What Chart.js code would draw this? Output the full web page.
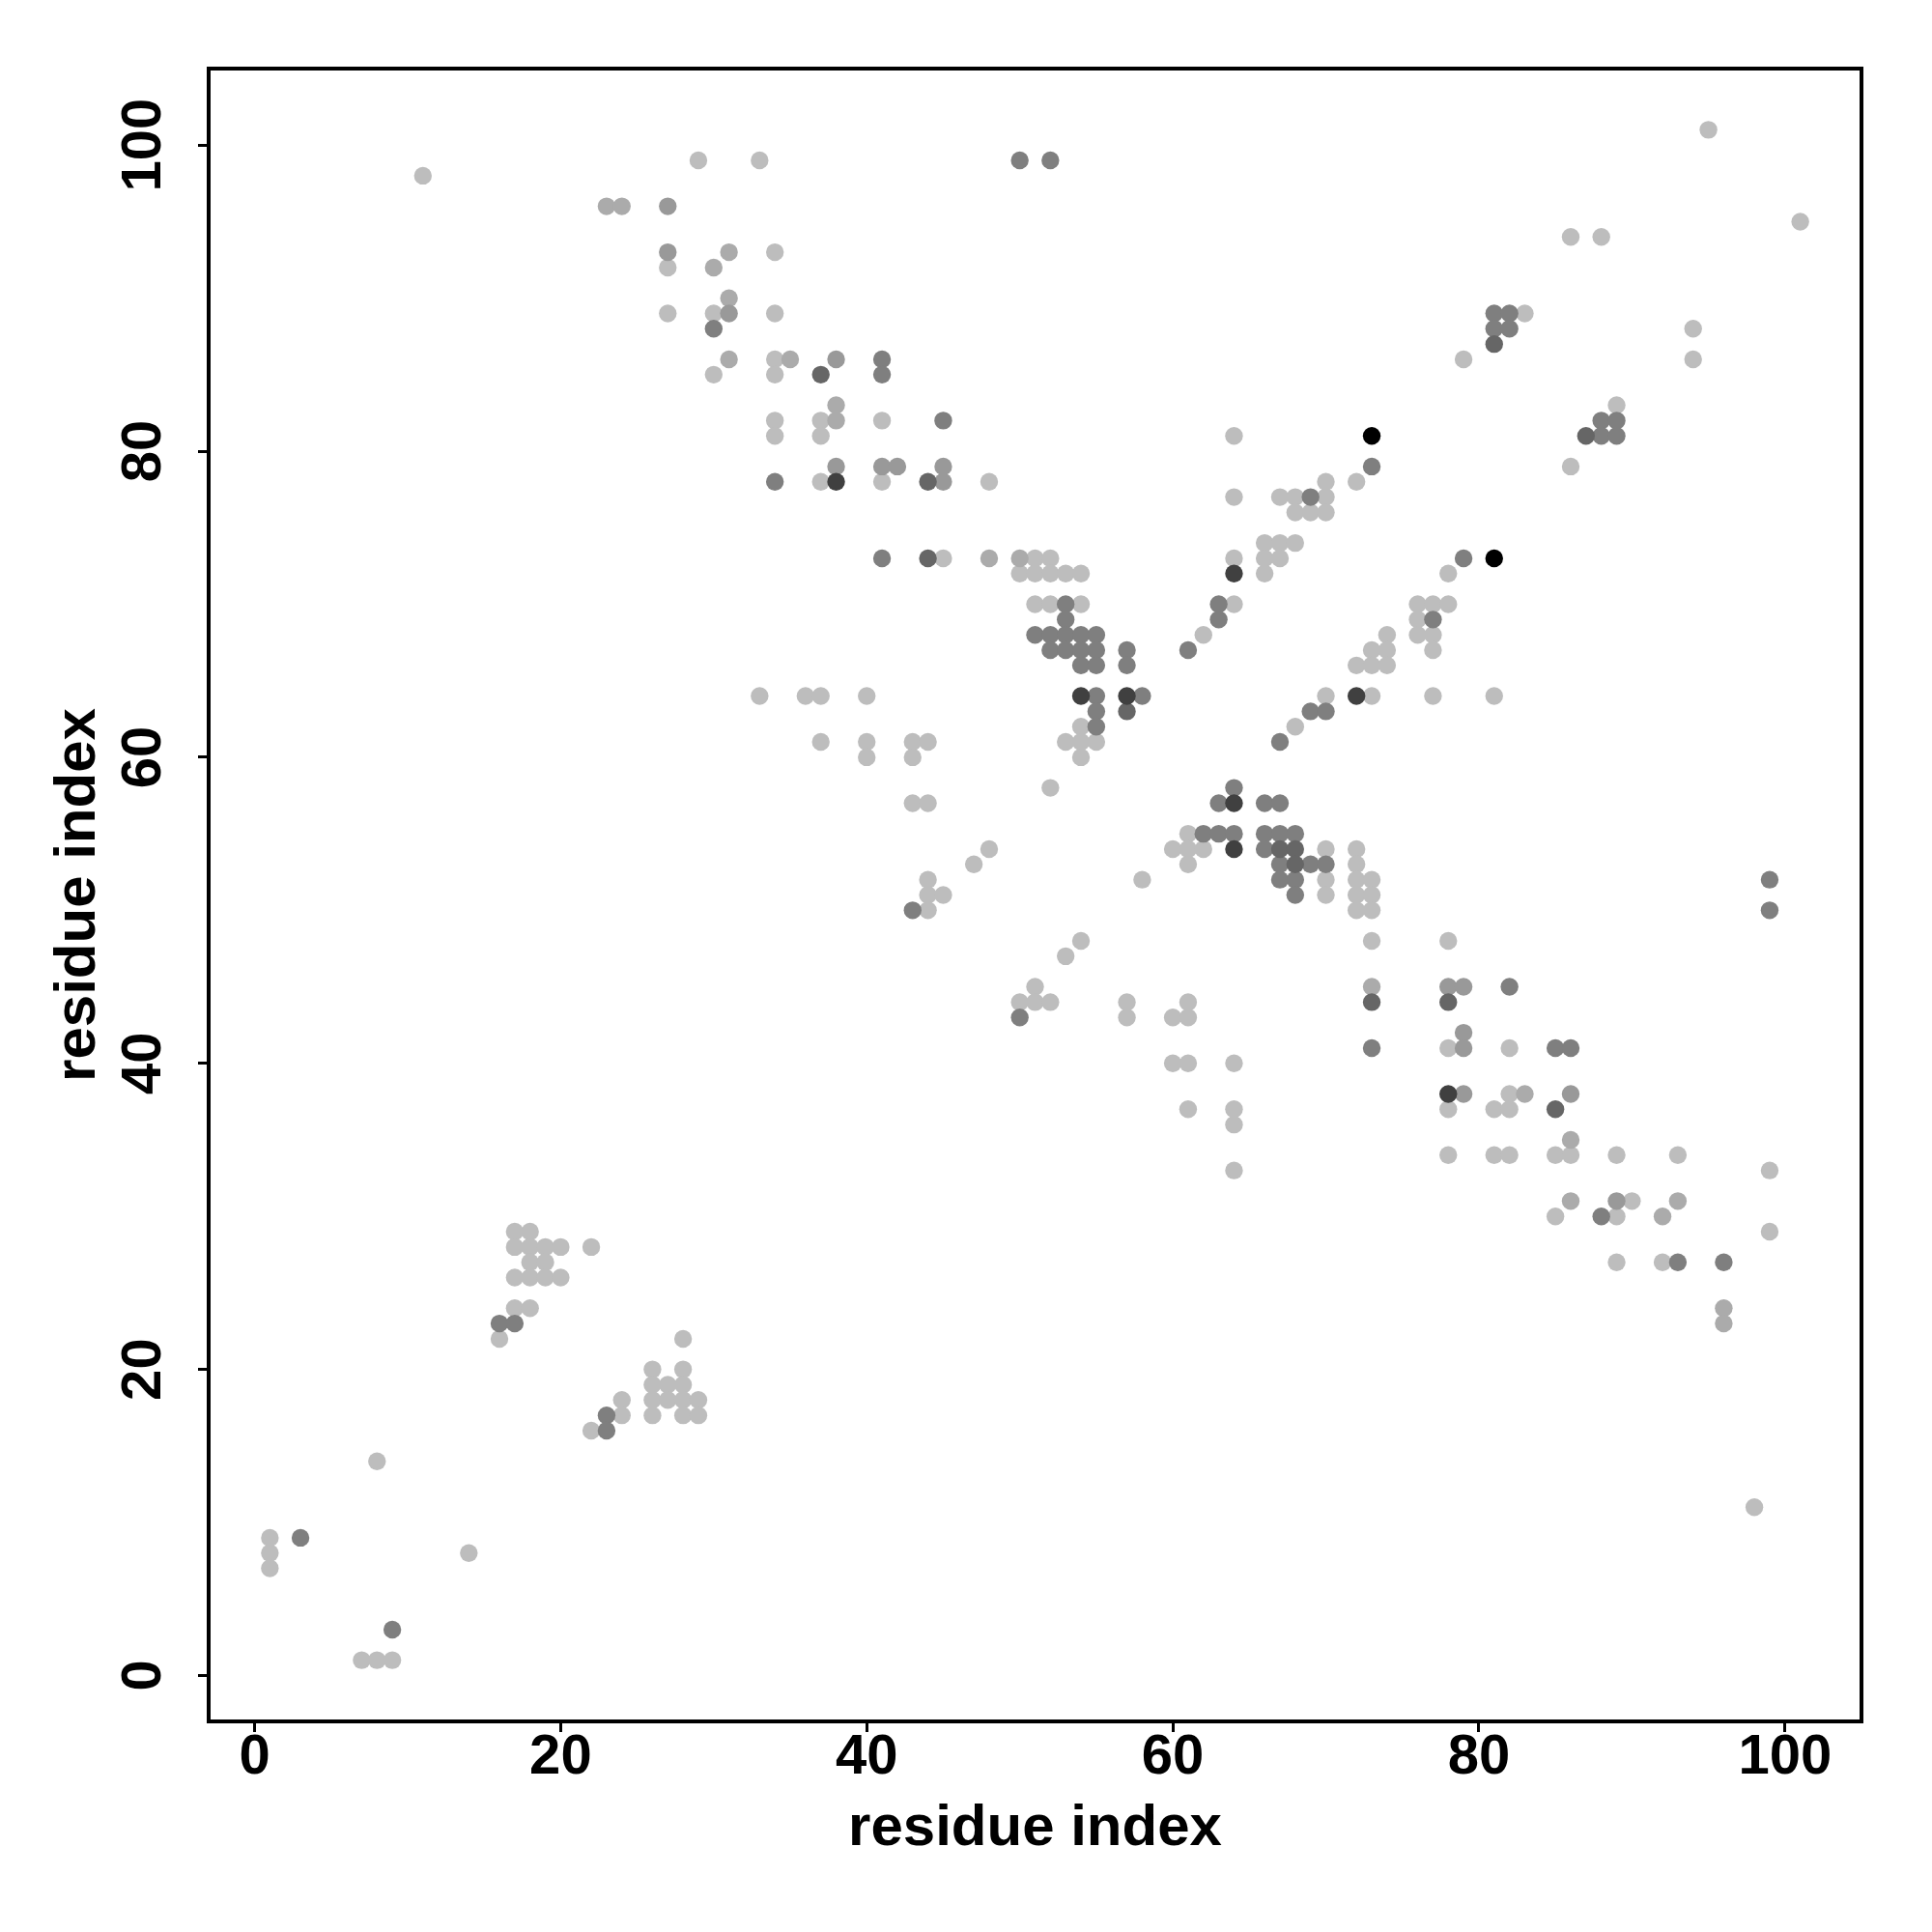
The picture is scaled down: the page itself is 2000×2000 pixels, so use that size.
<!DOCTYPE html>
<html>
<head>
<meta charset="utf-8">
<script src="https://cdn.jsdelivr.net/npm/chart.js@4/dist/chart.umd.min.js"></script>
<style>
  html, body { margin: 0; padding: 0; background: #ffffff; }
  #wrap { width: 2000px; height: 2000px; }
</style>
</head>
<body>
<div id="wrap"><canvas id="c" width="2000" height="2000"></canvas></div>
<script>
// ---- DATA: residue contact pairs [i, j], grouped by contact strength (1 = weakest, 7 = strongest)
const level1 = [
  [1,9],[1,8],[1,7],[7,1],[8,1],[9,1],[8,14],[14,8],[11,98],
  [17,29],[18,29],[17,28],[18,28],[19,28],[20,28],[22,28],[18,27],[19,27],
  [17,26],[18,26],[19,26],[20,26],[17,24],[18,24],[16,22],
  [28,22],[26,20],[28,20],[26,19],[27,19],[28,19],[24,18],[26,18],[27,18],[28,18],[29,18],
  [24,17],[26,17],[28,17],[29,17],[22,16],
  [29,99],[33,99],[34,93],[27,92],[27,89],[30,89],[34,89],[34,86],[30,85],[34,85],
  [34,82],[37,82],[41,82],[34,81],[37,81],[37,78],[41,78],[48,78],
  [45,73],[51,73],[52,73],[50,72],[51,72],[52,72],[53,72],[54,72],
  [51,70],[52,70],[54,70],[54,62],[53,61],[54,61],[55,61],[54,60],
  [33,64],[36,64],[37,64],[40,64],[37,61],[40,61],[43,61],[44,61],[40,60],[43,60],
  [52,58],[43,57],[44,57],[48,54],[47,53],[44,52],[58,52],[44,51],[45,51],[44,50],
  [54,48],[53,47],[51,45],[50,44],[51,44],[52,44],[57,44],[57,43],
  [61,55],[60,54],[61,54],[62,54],[70,54],[72,54],[61,53],[72,53],
  [70,52],[72,52],[73,52],[70,51],[72,51],[73,51],[72,50],[73,50],[73,48],[78,48],
  [78,41],[82,41],[82,38],[78,37],[81,37],[82,37],
  [78,34],[81,34],[82,34],[85,34],[86,34],[89,34],[93,34],[99,33],
  [90,31],[85,30],[89,30],[99,29],[89,27],[92,27],[98,11],
  [60,43],[61,44],[61,43],[60,40],[61,40],[64,40],[61,37],[64,37],[64,36],[64,33],
  [64,81],[70,78],[72,78],[64,77],[67,77],[68,77],[70,77],[68,76],[69,76],[70,76],
  [66,74],[67,74],[68,74],[64,73],[66,73],[67,73],[66,72],[64,70],[62,68],
  [78,72],[76,70],[77,70],[78,70],[76,69],[74,68],[76,68],[77,68],[73,67],[74,67],[77,67],
  [72,66],[73,66],[74,66],[70,64],[73,64],[77,64],[68,62],[81,64],
  [95,101],[101,95],[86,94],[88,94],[83,89],[94,88],[79,86],[94,86],[89,83],[86,79]
];
const level2 = [
  [23,96],[24,96],[31,93],[30,92],[31,90],[31,86],[35,86],[38,83],[38,82],
  [48,73],[50,73],[73,45],[83,38],[86,35],[86,31],[93,31],[92,30],[96,24],[96,23]
];
const level3 = [
  [27,96],[27,93],[31,89],[38,86],[38,79],[41,79],[42,79],[45,79],[45,78],
  [78,45],[79,45],[79,42],[79,41],[79,38],[86,38],[89,31]
];
const level4 = [
  [3,9],[9,3],[16,23],[17,23],[23,17],[23,16],
  [30,88],[41,86],[41,85],[45,82],[34,78],[41,73],[50,99],[52,99],
  [53,70],[53,69],[51,68],[52,68],[53,68],[54,68],[55,68],
  [52,67],[53,67],[54,67],[55,67],[57,67],[61,67],[54,66],[55,66],[57,66],
  [55,64],[58,64],[55,63],[55,62],[43,50],[50,43],
  [64,58],[63,57],[66,57],[67,57],[62,55],[63,55],[64,55],[66,55],[67,55],[68,55],
  [66,54],[67,53],[69,53],[70,53],[67,52],[68,52],[68,51],
  [82,45],[73,41],[85,41],[86,41],[88,30],[93,27],[96,27],[99,52],[99,50],
  [73,79],[69,77],[63,70],[63,69],[79,73],[77,69],[69,63],[70,63],[67,61],
  [81,89],[82,89],[81,88],[82,88],[88,82],[89,82],[88,81],[89,81]
];
const level5 = [
  [37,85],[44,78],[44,73],[57,63],[67,54],[68,54],[68,53],[73,44],[78,44],[85,37],[81,87],[87,81]
];
const level6 = [
  [38,78],[54,64],[57,64],[64,57],[64,54],[78,38],[64,72],[72,64]
];
const level7 = [
  [73,81],[81,73]
];
const xTickValues = [0, 20, 40, 60, 80, 100];
const yTickValues = [0, 20, 40, 60, 80, 100];
const xTitle = 'residue index';
const yTitle = 'residue index';

// ---- STYLE
const levelColors = ['#bdbdbd', '#ababab', '#999999', '#7f7f7f', '#666666', '#404040', '#000000'];
const levels = [level1, level2, level3, level4, level5, level6, level7];
const FAMILY = '"Liberation Sans", Arial, Helvetica, sans-serif';
const TICK_FONT = { family: FAMILY, size: 58, weight: 'bold', lineHeight: 1 };
const TITLE_FONT = { family: FAMILY, size: 60, weight: 'bold', lineHeight: 1 };

// darkest first so it is painted on top
const datasets = [];
for (let k = levels.length - 1; k >= 0; k--) {
  datasets.push({
    label: 'level ' + (k + 1),
    data: levels[k].map(p => ({ x: p[0], y: p[1] })),
    backgroundColor: levelColors[k],
    borderWidth: 0,
    pointRadius: 9.2,
    pointHoverRadius: 9.2,
    pointStyle: 'circle'
  });
}

const boxPlugin = {
  id: 'box',
  beforeDraw(chart) {
    const ctx = chart.ctx;
    ctx.save();
    ctx.fillStyle = '#ffffff';
    ctx.fillRect(0, 0, chart.width, chart.height);
    ctx.restore();
  },
  afterDraw(chart) {
    const a = chart.chartArea;
    const ctx = chart.ctx;
    ctx.save();
    ctx.strokeStyle = '#000000';
    ctx.lineWidth = 4;
    ctx.strokeRect(a.left, a.top, a.right - a.left, a.bottom - a.top);
    ctx.restore();
  }
};

new Chart(document.getElementById('c'), {
  type: 'scatter',
  data: { datasets },
  options: {
    responsive: false,
    animation: false,
    devicePixelRatio: 1,
    layout: { padding: { top: 71, right: 73, left: 0, bottom: 0 } },
    plugins: { legend: { display: false }, tooltip: { enabled: false } },
    scales: {
      x: {
        type: 'linear',
        min: -3, max: 105,
        afterBuildTicks: s => { s.ticks = xTickValues.map(v => ({ value: v })); },
        afterFit: s => { s.height = 218; },
        grid: { display: true, drawOnChartArea: false, drawTicks: true, tickLength: 11, tickWidth: 3, tickColor: '#000' },
        border: { display: false },
        ticks: { color: '#000', font: TICK_FONT, padding: -2, autoSkip: false, maxRotation: 0, minRotation: 0 },
        title: { display: true, text: xTitle, color: '#000', font: TITLE_FONT, padding: { top: 0, bottom: 77 } }
      },
      y: {
        type: 'linear',
        min: -3, max: 105,
        afterBuildTicks: s => { s.ticks = yTickValues.map(v => ({ value: v })); },
        afterFit: s => { s.width = 216; },
        grid: { display: true, drawOnChartArea: false, drawTicks: true, tickLength: 11, tickWidth: 3, tickColor: '#000' },
        border: { display: false },
        ticks: { color: '#000', font: TICK_FONT, padding: 7, autoSkip: false, minRotation: 90, maxRotation: 90, crossAlign: 'center' },
        title: { display: true, text: yTitle, color: '#000', font: TITLE_FONT, padding: { top: 51, bottom: 0 } }
      }
    }
  },
  plugins: [boxPlugin]
});
</script>
</body>
</html>
